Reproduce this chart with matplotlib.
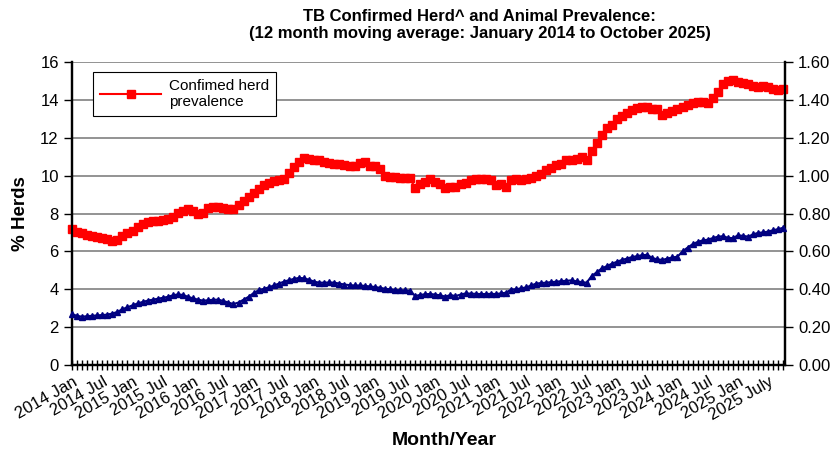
import numpy as np
import matplotlib.pyplot as plt

plt.rcParams['font.family'] = ['Liberation Sans', 'DejaVu Sans']

# monthly 12 month moving averages, Jan 2014 .. Oct 2025
herd = [7.2, 7.0, 6.95, 6.85, 6.8, 6.75, 6.7, 6.65, 6.55, 6.6, 6.8, 6.95,
        7.1, 7.3, 7.45, 7.57, 7.6, 7.6, 7.65, 7.7, 7.8, 8.05, 8.15, 8.22,
        8.15, 8.0, 8.05, 8.3, 8.35, 8.36, 8.3, 8.22, 8.25, 8.45, 8.65, 8.85,
        9.1, 9.3, 9.5, 9.62, 9.7, 9.75, 9.8, 10.15, 10.45, 10.7, 10.95, 10.9,
        10.85, 10.8, 10.7, 10.65, 10.6, 10.6, 10.55, 10.5, 10.5, 10.65, 10.7, 10.5,
        10.5, 10.35, 10.0, 9.95, 9.95, 9.9, 9.9, 9.85, 9.35, 9.55, 9.65, 9.8,
        9.65, 9.55, 9.35, 9.4, 9.4, 9.55, 9.6, 9.75, 9.8, 9.8, 9.8, 9.75,
        9.5, 9.55, 9.4, 9.75, 9.8, 9.75, 9.8, 9.85, 10.0, 10.1, 10.3, 10.4,
        10.55, 10.6, 10.8, 10.85, 10.9, 11.0, 10.8, 11.3, 11.7, 12.15, 12.5, 12.7,
        13.0, 13.15, 13.3, 13.45, 13.55, 13.6, 13.65, 13.5, 13.5, 13.2, 13.3, 13.4,
        13.5, 13.65, 13.75, 13.85, 13.9, 13.9, 13.85, 14.1, 14.4, 14.85, 15.0, 15.05,
        14.95, 14.9, 14.85, 14.75, 14.7, 14.75, 14.7, 14.55, 14.5, 14.55]

animal = [0.268, 0.26, 0.255, 0.258, 0.26, 0.262, 0.264, 0.266, 0.272, 0.28, 0.295, 0.305,
          0.315, 0.325, 0.333, 0.34, 0.345, 0.35, 0.355, 0.36, 0.368, 0.373, 0.37, 0.36,
          0.352, 0.345, 0.34, 0.342, 0.345, 0.345, 0.338, 0.33, 0.322, 0.33, 0.345, 0.36,
          0.38, 0.395, 0.402, 0.41, 0.42, 0.43, 0.44, 0.448, 0.455, 0.46, 0.458, 0.45,
          0.44, 0.435, 0.435, 0.436, 0.435, 0.43, 0.425, 0.422, 0.42, 0.42, 0.418, 0.415,
          0.412, 0.408, 0.403, 0.40, 0.396, 0.395, 0.394, 0.392, 0.365, 0.37, 0.374, 0.375,
          0.372, 0.368, 0.361, 0.37, 0.364, 0.372, 0.378, 0.377, 0.376, 0.375, 0.375, 0.376,
          0.375, 0.378, 0.382, 0.398, 0.40, 0.405, 0.41, 0.42, 0.43, 0.433, 0.435, 0.438,
          0.44, 0.443, 0.445, 0.447, 0.442, 0.438, 0.435, 0.47, 0.49, 0.51, 0.522, 0.535,
          0.545, 0.555, 0.562, 0.57, 0.575, 0.58, 0.582, 0.565, 0.558, 0.555, 0.562, 0.568,
          0.572, 0.60, 0.62, 0.638, 0.65, 0.658, 0.662, 0.67, 0.678, 0.68, 0.672, 0.67,
          0.685, 0.682, 0.678, 0.69, 0.698, 0.70, 0.705, 0.712, 0.718, 0.725]

labels = []
for i in range(len(herd)):
    y, m = 2014 + i // 12, i % 12
    if m == 0:
        labels.append(f"{y} Jan")
    elif m == 6:
        labels.append(f"{y} July" if y == 2025 else f"{y} Jul")
    else:
        labels.append("")

x = np.arange(len(herd))

fig = plt.figure(figsize=(8.39, 4.54), dpi=100)
ax = fig.add_axes([0.0858, 0.196, 0.8498, 0.6674])
ax2 = ax.twinx()

ax.plot(x, herd, color='#ff0000', marker='s', markersize=5.5, lw=1.5,
        clip_on=False, zorder=3, label='Confimed herd\nprevalence')
ax2.plot(x, animal, color='#000080', marker='^', markersize=4.5, lw=1.5,
         clip_on=False, zorder=3)

ax.set_ylim(0, 16)
ax.set_yticks(np.arange(0, 17, 2))
ax2.set_ylim(0, 1.6)
ax2.set_yticks(np.arange(0, 1.61, 0.2))
ax2.set_yticklabels([f"{v:.2f}" for v in np.arange(0, 1.61, 0.2)])
ax.set_xlim(0, 141.3)

ax.yaxis.grid(True, color='#808080', lw=1.2)
ax.set_axisbelow(True)
ax.set_xticks(x)
ax.set_xticklabels(labels, rotation=30, ha='right', rotation_mode='anchor')

ax.tick_params(axis='x', direction='inout', length=7, width=1, labelsize=12, pad=3)
ax.tick_params(axis='y', direction='out', length=6, width=1, labelsize=12)
ax2.tick_params(axis='y', direction='out', length=6, width=1, labelsize=12)

for a in (ax, ax2):
    a.spines['top'].set_visible(False)
    for s in ('left', 'right', 'bottom'):
        a.spines[s].set_linewidth(1.6)

ax.set_ylabel('% Herds', fontsize=13.5, fontweight='bold', labelpad=8)
fig.text(0.53, 0.02, 'Month/Year', ha='center', fontsize=14, fontweight='bold')
fig.text(0.572, 0.98, 'TB Confirmed Herd^ and Animal Prevalence:\n'
         '(12 month moving average: January 2014 to October 2025)',
         ha='center', va='top', fontsize=12, fontweight='bold', linespacing=1.15)

leg = ax.legend(loc='upper left', bbox_to_anchor=(0.03, 0.967), fontsize=11,
                frameon=True, fancybox=False, edgecolor='black', framealpha=1,
                handlelength=4, borderpad=0.45, handletextpad=0.5, borderaxespad=0)
leg.get_frame().set_linewidth(0.8)
leg.set_zorder(5)

fig.savefig('out.png', dpi=100)
